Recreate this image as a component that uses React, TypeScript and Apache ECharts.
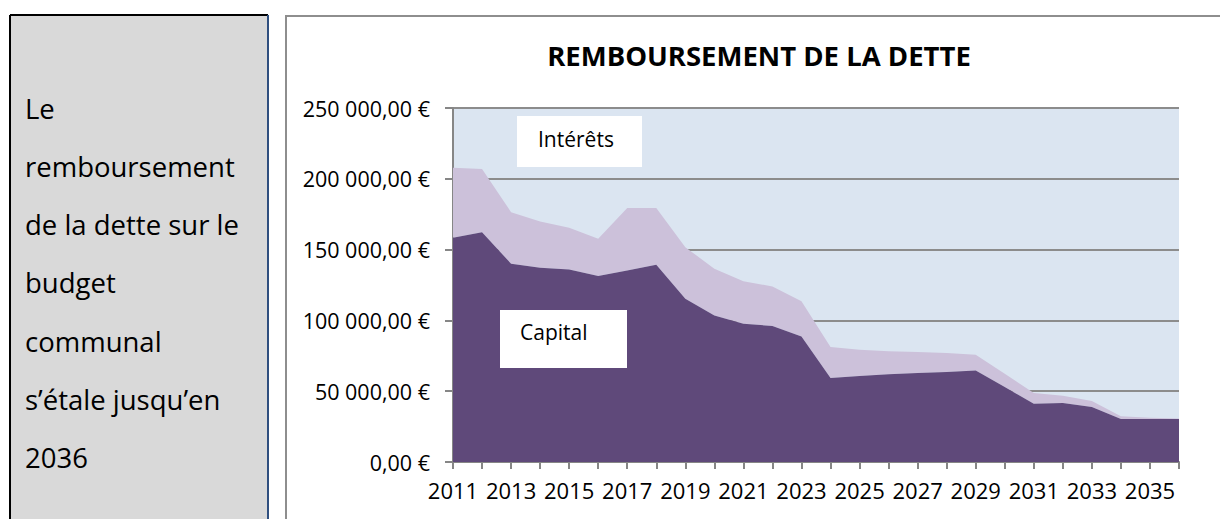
import React, { useEffect, useRef } from "react";
import * as echarts from "echarts";

const years = ["2011","2012","2013","2014","2015","2016","2017","2018","2019","2020","2021","2022","2023","2024","2025","2026","2027","2028","2029","2030","2031","2032","2033","2034","2035","2036"];
const capital = [158400,162300,140000,137200,136000,131300,135300,139300,115300,103500,97700,96000,88700,59300,60700,61900,62800,63500,64700,52900,41200,41600,38800,30300,30300,30300];
const interets = [49400,44700,36400,32700,29400,26300,44000,40000,36400,33000,30000,28000,24900,21900,18600,16400,14800,13400,11100,9500,7500,5200,4200,2000,1000,500];
const title = "REMBOURSEMENT DE LA DETTE";
const sideLines = ["Le", "remboursement", "de la dette sur le", "budget", "communal", "s\u2019\u00e9tale jusqu\u2019en", "2036"];
const seriesNames = ["Capital", "Int\u00e9r\u00eats"];

const FONT = "'Open Sans', sans-serif";

function fmt(v: number): string {
  return Math.round(v).toString().replace(/\B(?=(\d{3})+(?!\d))/g, " ") + ",00 \u20ac";
}

export default function App() {
  const ref = useRef<HTMLDivElement>(null);
  useEffect(() => {
    const chart = echarts.init(ref.current!, null, { renderer: "svg" });
    const sideTexts = sideLines.map((t, i) => ({
      type: "text",
      left: 25,
      top: 108 + i * 58.3 - 14,
      style: { text: t, font: `27.5px ${FONT}`, fill: "#000", textVerticalAlign: "top" },
      z: 10,
    }));
    chart.setOption({
      animation: false,
      backgroundColor: "#ffffff",
      title: {
        text: title,
        left: 754,
        top: 36,
        textAlign: "center",
        textStyle: { fontFamily: FONT, fontWeight: "bold", fontSize: 27.5, color: "#000" },
      },
      grid: {
        left: 453,
        right: 41,
        top: 108,
        bottom: 57,
        show: true,
        backgroundColor: "#dbe5f1",
        borderWidth: 0,
      },
      xAxis: {
        type: "category",
        data: years,
        boundaryGap: false,
        axisLine: { lineStyle: { color: "#868686", width: 2 } },
        axisTick: { show: true, interval: 0, length: 7, lineStyle: { color: "#868686", width: 2 } },
        axisLabel: { interval: 1, color: "#000", fontFamily: FONT, fontSize: 22, margin: 17 },
        splitLine: { show: false },
      },
      yAxis: {
        type: "value",
        min: 0,
        max: 250000,
        interval: 50000,
        axisLine: { show: true, lineStyle: { color: "#868686", width: 2 } },
        axisTick: { show: true, length: 8, lineStyle: { color: "#868686", width: 2 } },
        axisLabel: { formatter: fmt, color: "#000", fontFamily: FONT, fontSize: 21.5, margin: 23 },
        splitLine: { show: true, lineStyle: { color: "#8c8c8c", width: 2 } },
      },
      series: [
        {
          name: seriesNames[0],
          type: "line",
          stack: "total",
          data: capital,
          symbol: "none",
          lineStyle: { width: 0 },
          areaStyle: { color: "#5f497a", opacity: 1 },
          z: 3,
        },
        {
          name: seriesNames[1],
          type: "line",
          stack: "total",
          data: interets,
          symbol: "none",
          lineStyle: { width: 0 },
          areaStyle: { color: "#ccc1da", opacity: 1 },
          z: 2,
        },
      ],
      graphic: [
        { type: "rect", shape: { x: 10, y: 15, width: 258, height: 530 }, style: { fill: "#d9d9d9" }, z: 1 },
        { type: "line", shape: { x1: 10, y1: 15, x2: 268, y2: 15 }, style: { stroke: "#000", lineWidth: 2 }, z: 2 },
        { type: "line", shape: { x1: 10, y1: 15, x2: 10, y2: 530 }, style: { stroke: "#000", lineWidth: 2 }, z: 2 },
        { type: "line", shape: { x1: 268, y1: 15, x2: 268, y2: 530 }, style: { stroke: "#2f4f7f", lineWidth: 2 }, z: 2 },
        { type: "rect", shape: { x: 286, y: 16, width: 960, height: 530 }, style: { fill: "none", stroke: "#8e8e8e", lineWidth: 2 }, z: 1 },
        ...sideTexts,
        { type: "rect", shape: { x: 517, y: 116, width: 125, height: 51 }, style: { fill: "#ffffff" }, z: 20 },
        { type: "text", left: 538, top: 128, style: { text: seriesNames[1], font: `21px ${FONT}`, fill: "#000" }, z: 21 },
        { type: "rect", shape: { x: 500, y: 310, width: 127, height: 58 }, style: { fill: "#ffffff" }, z: 20 },
        { type: "text", left: 520, top: 321, style: { text: seriesNames[0], font: `21px ${FONT}`, fill: "#000" }, z: 21 },
      ],
    });
    return () => chart.dispose();
  }, []);
  return <div ref={ref} style={{ position: "fixed", left: 0, top: 0, width: 1220, height: 519 }} />;
}
